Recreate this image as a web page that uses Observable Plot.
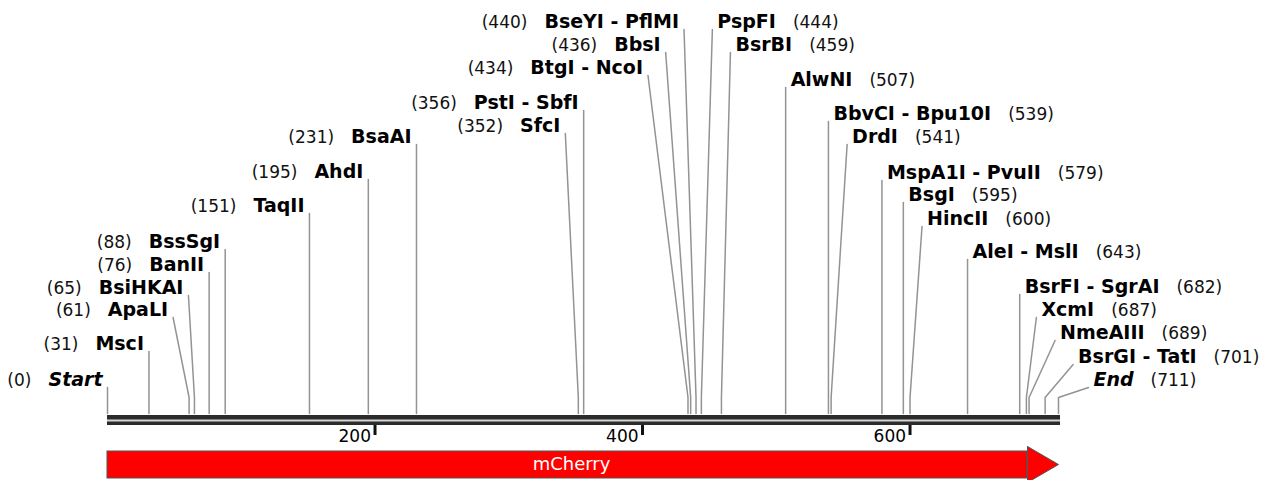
<!DOCTYPE html>
<html><head><meta charset="utf-8">
<script src="https://cdn.jsdelivr.net/npm/d3@7"></script>
<script src="https://cdn.jsdelivr.net/npm/@observablehq/plot@0.6"></script>
<style>html,body{margin:0;padding:0;background:#fff;} #chart svg{display:block;overflow:visible;}</style>
</head><body><div id="chart"></div>
<script>
// ---- data ----
const seqLength = 711;
const sites = ["Start","MscI","ApaLI","BsiHKAI","BanII","BssSgI","TaqII","AhdI","BsaAI","SfcI","PstI - SbfI","BtgI - NcoI","BbsI","BseYI - PflMI","PspFI","BsrBI","AlwNI","BbvCI - Bpu10I","DrdI","MspA1I - PvuII","BsgI","HincII","AleI - MslI","BsrFI - SgrAI","XcmI","NmeAIII","BsrGI - TatI","End"];
const positions = [0,31,61,65,76,88,151,195,231,352,356,434,436,440,444,459,507,539,541,579,595,600,643,682,687,689,701,711];
const ticks = [200,400,600];
const featureNames = ["mCherry"];
const featureStarts = [0];
const featureEnds = [711];

// ---- label layout (px) ----
const labelLift = [28,64,98,120,143,166,202,236,271,282,305,340,363,386,386,363,328,294,271,235,213,189,156,121,98,75,51,28];
const leaderShift = [0,0,-16,-6,0,0,0,0,0,-13,0,-40,-25,-12,11,9,0,0,16,0,0,12,0,0,10,26,28,30];

const X0 = 107, X1 = 1058;
const k = (X1 - X0) / seqLength;
const FONT = "'DejaVu Sans', Verdana, sans-serif";
const NAME_SIZE = 19, NUM_SIZE = 17;
const ctx = document.createElement("canvas").getContext("2d");
const measure = (t, f) => { ctx.font = f; return ctx.measureText(t).width; };

const rows = sites.map((name, i) => {
  const pos = positions[i];
  const left = pos <= 440;
  const italic = name === "Start" || name === "End";
  const nameW = measure(name, `${italic ? "italic " : ""}bold ${NAME_SIZE}px ${FONT}`);
  const shift = leaderShift[i];
  const dir = left ? -1 : 1;
  return {
    name, pos, left, italic, lift: labelLift[i],
    topX: pos + shift / k,
    nameX: pos + (shift + dir * 5) / k,
    numX: pos + (shift + dir * (5 + nameW + 17)) / k,
    num: `(${pos})`
  };
});
const leaders = rows.flatMap(d => [
  {name: d.name, x: d.pos, y: 0},
  {name: d.name, x: d.pos, y: 16},
  {name: d.name, x: d.topX, y: d.lift - 2}
]);
const headLen = 31 / k;
const features = featureNames.map((n, i) => ({name: n, start: featureStarts[i], end: featureEnds[i]}));
const heads = features.flatMap(f => [
  {name: f.name, x: f.end - headLen, y: -33},
  {name: f.name, x: f.end, y: -51},
  {name: f.name, x: f.end - headLen, y: -69},
  {name: f.name, x: f.end - headLen, y: -33}
]);

const nameText = (filter, anchor, italic) => Plot.text(rows, {
  filter, x: "nameX", y: "lift", text: "name", textAnchor: anchor, lineAnchor: "bottom",
  fontSize: NAME_SIZE, fontWeight: "bold", fontStyle: italic ? "italic" : "normal", fill: "#000", fontFamily: FONT
});
const numText = (filter, anchor) => Plot.text(rows, {
  filter, x: "numX", y: "lift", text: "num", textAnchor: anchor, lineAnchor: "bottom",
  fontSize: NUM_SIZE, fill: "#111", fontFamily: FONT
});

const chart = Plot.plot({
  width: 1285, height: 480,
  marginLeft: X0, marginRight: 1285 - X1, marginTop: 0, marginBottom: 55,
  style: {fontFamily: FONT, background: "#fff"},
  x: {domain: [0, seqLength], range: [X0, X1], axis: null},
  y: {domain: [0, 413], range: [413, 0], axis: null},
  marks: [
    Plot.line(leaders, {x: "x", y: "y", z: "name", stroke: "#939393", strokeWidth: 1.5}),
    Plot.rect([seqLength], {x1: 0, x2: d => d + 1.5, y1: -2, y2: -12, fill: "#2b2b2b"}),
    Plot.ruleY([-7], {x1: 0, x2: seqLength + 1.5, stroke: "#d6d6d6", strokeWidth: 2}),
    Plot.ruleX(ticks, {y1: -12, y2: -22, stroke: "#111", strokeWidth: 3}),
    Plot.axisX({ticks, tickSize: 0, tickPadding: 16, textAnchor: "end", lineAnchor: "bottom", dx: -4, fontSize: 17, fill: "#000", tickFormat: d => String(d)}),
    Plot.rect(features, {x1: "start", x2: d => d.end - headLen, y1: -38, y2: -65, fill: "#ff0000", stroke: "#555", strokeWidth: 1}),
    Plot.line(heads, {x: "x", y: "y", z: "name", fill: "#ff0000", stroke: "#555", strokeWidth: 1}),
    Plot.text(features, {x: d => (d.start + d.end - headLen) / 2 + 4 / k, y: -51, text: "name", fill: "#fff", fontSize: 18, fontFamily: FONT, lineAnchor: "middle"}),
    nameText(d => d.left && !d.italic, "end", false),
    nameText(d => !d.left && !d.italic, "start", false),
    nameText(d => d.left && d.italic, "end", true),
    nameText(d => !d.left && d.italic, "start", true),
    numText(d => d.left, "end"),
    numText(d => !d.left, "start")
  ]
});
document.getElementById("chart").append(chart);
</script>
</body></html>
